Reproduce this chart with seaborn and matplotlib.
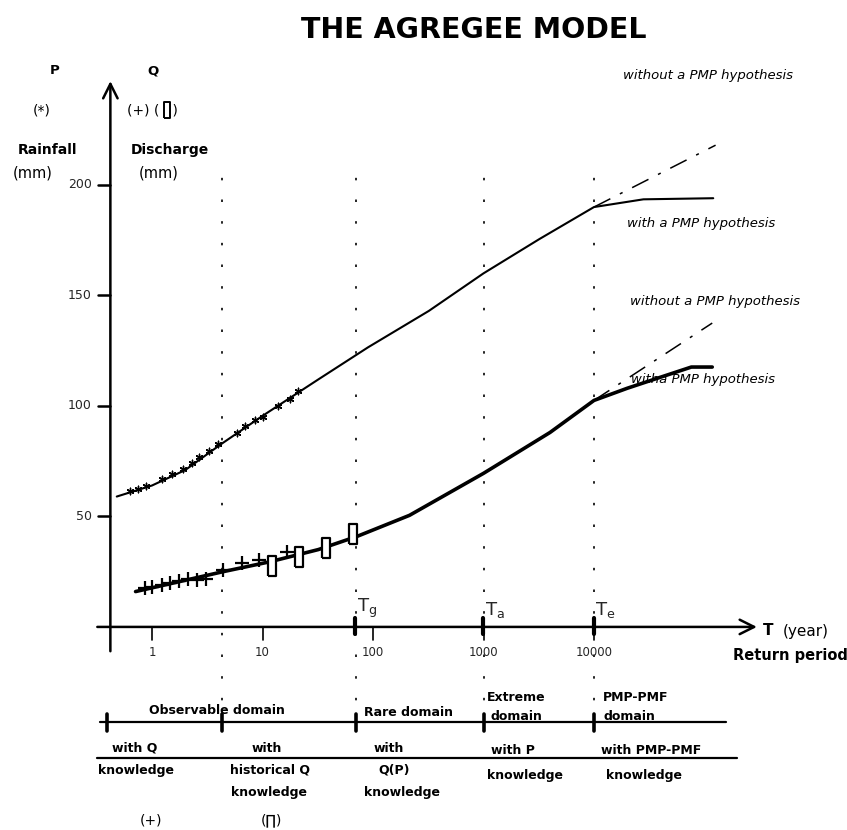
import numpy as np
import pandas as pd
import matplotlib
matplotlib.use("Agg")
import matplotlib.pyplot as plt
import seaborn as sns

title = "THE AGREGEE MODEL"

# return-period axis (years)
return_periods = [1, 10, 100, 1000, 10000]
return_labels = ["1", "10", "100", "1000", "10000"]
y_ticks = [50, 100, 150, 200]
y_tick_labels = ["50", "100", "150", "200"]

# domain limits (years)
domain_bounds = [0.39, 4.3, 70, 1000, 10000]
threshold_T = [70, 1000, 10000]
threshold_names = ["g", "a", "e"]
dotted_T = [4.3, 70, 1000, 10000]

# rainfall P curve
rain_T = [0.48, 1, 2, 4.3, 10, 32, 90, 320, 1000, 3200, 10000, 28000, 120000]
rain_mm = [59, 64, 71, 83, 95.5, 112, 126.5, 143, 160, 175.5, 190, 193.5, 194]
rain_noPMP_T = [10000, 126000]
rain_noPMP_mm = [190, 218]
rain_obs_T = [0.63, 0.74, 0.89, 1.23, 1.51, 1.91, 2.29, 2.69, 3.31, 3.98,
              5.89, 6.92, 8.51, 10, 13.8, 17.8, 20.9]
rain_obs_mm = [61.7, 62.4, 63.9, 66.8, 69.2, 71.5, 74.3, 77.1, 79.8, 82.8,
               87.6, 91, 93.7, 95.2, 100, 103.2, 106.9]

# discharge Q curve
q_T = [0.71, 4.4, 11.7, 32, 72, 214, 1000, 4000, 10000, 20000, 40000, 76000, 117500]
q_mm = [16, 25, 29.5, 35, 41, 50.5, 69.5, 88, 102.5, 108, 113, 117.6, 117.6]
q_noPMP_T = [10000, 117500]
q_noPMP_mm = [102.5, 137.5]
q_obs_T = [0.865, 0.99, 1.22, 1.46, 1.77, 2.13, 2.57, 3.08, 4.42, 6.46, 9.33, 16.6]
q_obs_mm = [17.5, 18.2, 19, 19.8, 20.8, 21.7, 21.3, 21.7, 25.8, 29.1, 30.3, 34]
q_hist_T = [12.1, 21.4, 37.2, 66]
q_hist_mm = [27.7, 31.8, 35.7, 42.1]

sns.set_theme(style="white")
plt.rcParams["font.family"] = ["DejaVu Sans"]

W, H = 847, 830
fig = plt.figure(figsize=(W / 100, H / 100), dpi=100)
ax = fig.add_axes([0, 0, 1, 1])
ax.set_xscale("log")

# pixel helpers for text placement (axes fill the figure)
def fx(px):
    return px / W

def fy(py):
    return 1 - py / H

def txt(s, px, py, ha="center", size=9, weight="normal", style="normal", va="center"):
    ax.text(fx(px), fy(py), s, transform=ax.transAxes, ha=ha, va=va,
            fontsize=size, fontweight=weight, fontstyle=style, color="black")

# dotted domain separators
for t in dotted_T:
    ax.plot([t, t], [-43, 211], color="black", lw=1.2, linestyle=(0, (1.5, 11.5)), zorder=1)

# curves
sns.lineplot(x=rain_T, y=rain_mm, ax=ax, color="black", lw=1.5, zorder=3)
sns.lineplot(x=rain_noPMP_T, y=rain_noPMP_mm, ax=ax, color="black", lw=1.1,
             linestyle=(0, (12, 7, 2, 7)), zorder=3)
sns.lineplot(x=q_T, y=q_mm, ax=ax, color="black", lw=2.6, zorder=3)
sns.lineplot(x=q_noPMP_T, y=q_noPMP_mm, ax=ax, color="black", lw=1.1,
             linestyle=(0, (12, 7, 2, 7)), zorder=3)

# observations
sns.scatterplot(x=rain_obs_T, y=rain_obs_mm, ax=ax, marker=(6, 2, 0), s=22,
                color="black", linewidth=1.0, zorder=4)
sns.scatterplot(x=q_obs_T, y=q_obs_mm, ax=ax, marker="+", s=90,
                color="black", linewidth=1.6, zorder=4)
box = [(-0.42, -1), (0.42, -1), (0.42, 1), (-0.42, 1), (-0.42, -1)]
sns.scatterplot(x=q_hist_T, y=q_hist_mm, ax=ax, marker=box, s=190,
                facecolor="white", edgecolor="black", linewidth=1.6, zorder=5)

# axes drawn as arrows
T_axis = 0.42
ax.annotate("", xy=(T_axis, 247), xytext=(T_axis, -11),
            arrowprops=dict(arrowstyle="->", lw=1.8, color="black",
                            shrinkA=0, shrinkB=0, mutation_scale=26))
ax.annotate("", xy=(298000, 0), xytext=(0.32, 0),
            arrowprops=dict(arrowstyle="->", lw=1.8, color="black",
                            shrinkA=0, shrinkB=0, mutation_scale=26))

# y ticks
for v, lab in zip(y_ticks, y_tick_labels):
    ax.plot([0.327, T_axis], [v, v], color="black", lw=1.8)
    ax.text(0.285, v, lab, ha="right", va="center", fontsize=9)

# x ticks
for t, lab in zip(return_periods, return_labels):
    ax.plot([t, t], [0, -6], color="black", lw=1.2)
    ax.text(t, -11.5, lab, ha="center", va="center", fontsize=8.5)

# thresholds Tg, Ta, Te
for t, nm in zip(threshold_T, threshold_names):
    ax.plot([t * 0.99, t * 0.99], [-3, 4], color="black", lw=3)
    ax.text(t * 1.03, 3, r"$\mathregular{T_{%s}}$" % nm, ha="left", va="bottom", fontsize=13)

# domain table lines
ax.plot([0.34, 158000], [-43, -43], color="black", lw=1.6)
for t in domain_bounds:
    ax.plot([t, t], [-39.5, -47], color="black", lw=2.6)
ax.plot([0.32, 197000], [-59.3, -59.3], color="black", lw=1.6)

ax.set_xlim(10 ** -1.3756, 10 ** 6.2896)
ax.set_ylim(-91.9, 283.7)
ax.axis("off")

# title and labels
txt(title, 474, 30, size=20.5, weight="bold")
txt("P", 55, 71, size=9.5, weight="bold")
txt("Q", 153, 71, size=9.5, weight="bold")
txt("(*)", 42, 110, size=10)
txt("(+) (   )", 152, 110, size=10)
# box symbol of the legend, drawn like the data marker
ax.scatter([fx(167)], [fy(110)], transform=ax.transAxes, marker=box, s=120,
           facecolor="white", edgecolor="black", linewidth=1.4, zorder=5)
txt("Rainfall", 47, 150, size=10, weight="bold")
txt("(mm)", 33, 173, size=10.5)
txt("Discharge", 170, 150, size=10, weight="bold")
txt("(mm)", 159, 173, size=10.5)

txt("without a PMP hypothesis", 623, 75, ha="left", size=9.5, style="italic")
txt("with a PMP hypothesis", 627, 223, ha="left", size=9.5, style="italic")
txt("without a PMP hypothesis", 630, 302, ha="left", size=9.5, style="italic")
txt("witha PMP hypothesis", 631, 380, ha="left", size=9.5, style="italic")

txt("T", 763, 630, ha="left", size=11, weight="bold")
txt("(year)", 783, 631, ha="left", size=11)
txt("Return period", 733, 655, ha="left", size=10.5, weight="bold")

# domain labels
txt("Observable domain", 217, 710, size=9, weight="bold")
txt("Rare domain", 408, 712, size=9, weight="bold")
txt("Extreme", 487, 697, ha="left", size=9, weight="bold")
txt("domain", 490, 716, ha="left", size=9, weight="bold")
txt("PMP-PMF", 603, 697, ha="left", size=9, weight="bold")
txt("domain", 603, 716, ha="left", size=9, weight="bold")

# knowledge labels
txt("with Q", 135, 748, size=9, weight="bold")
txt("knowledge", 136, 770, size=9, weight="bold")
txt("with", 267, 748, size=9, weight="bold")
txt("historical Q", 270, 770, size=9, weight="bold")
txt("knowledge", 269, 792, size=9, weight="bold")
txt("with", 389, 748, size=9, weight="bold")
txt("Q(P)", 394, 770, size=9, weight="bold")
txt("knowledge", 402, 792, size=9, weight="bold")
txt("with P", 513, 750, size=9, weight="bold")
txt("knowledge", 525, 775, size=9, weight="bold")
txt("with PMP-PMF", 651, 750, size=9, weight="bold")
txt("knowledge", 644, 775, size=9, weight="bold")
txt("(+)", 151, 820, size=10)
txt("(\u220F)", 271, 820, size=10)

fig.savefig("out.png", dpi=100, facecolor="white")
